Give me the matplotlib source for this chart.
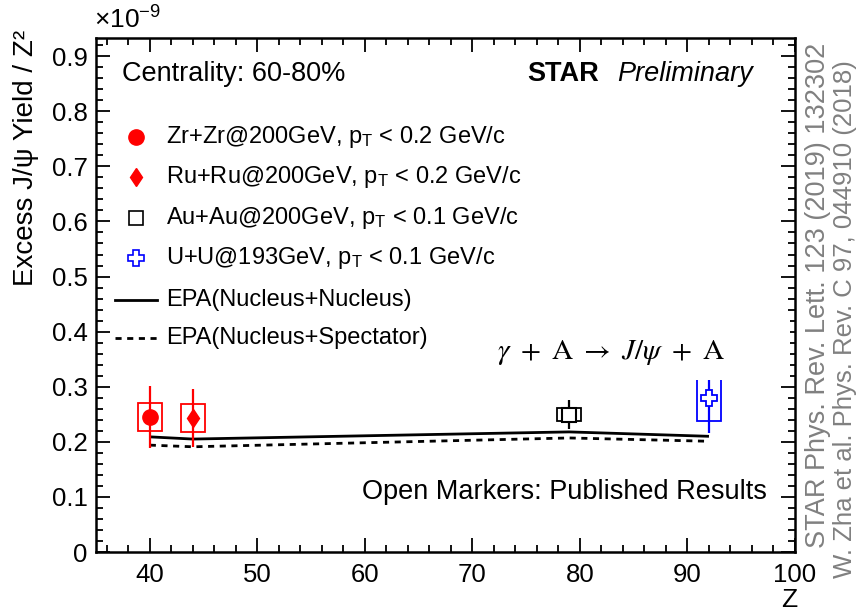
import matplotlib
matplotlib.use("Agg")
import matplotlib.pyplot as plt
from matplotlib.patches import Rectangle
from matplotlib.lines import Line2D
from matplotlib.ticker import MultipleLocator, FuncFormatter

plt.rcParams['font.family'] = ['Liberation Sans', 'DejaVu Sans']
plt.rcParams['mathtext.fontset'] = 'custom'
plt.rcParams['mathtext.rm'] = 'Liberation Sans'
plt.rcParams['mathtext.it'] = 'Liberation Sans:italic'
plt.rcParams['mathtext.bf'] = 'Liberation Sans:bold'

# Excess J/psi yield / Z^2 in units of 1e-9
zr_z, zr_y, zr_stat, zr_sys = [40], [0.245], [0.056], [0.026]
ru_z, ru_y, ru_stat, ru_sys = [44], [0.243], [0.053], [0.026]
au_z, au_y, au_stat, au_sys = [79], [0.249], [0.026], [0.012]
u_z, u_y, u_stat, u_sys = [92], [0.279], [0.063], [0.041]
sys_halfwidth = 1.1

# EPA model curves
epa_z = [40, 44, 79, 92]
epa_nn = [0.209, 0.205, 0.218, 0.210]
epa_ns = [0.194, 0.191, 0.207, 0.201]

W, H = 859, 614
fig = plt.figure(figsize=(W / 100, H / 100), dpi=100)
ax = fig.add_axes([96 / W, 1 - 552 / H, (795 - 96) / W, (552 - 38) / H])
ax.set_xlim(35, 100)
ax.set_ylim(0, 0.933)

def px(x, y):
    return x / W, 1 - y / H

# model lines
ax.plot(epa_z, epa_nn, color='black', lw=2.0, solid_capstyle='butt', zorder=2)
ax.plot(epa_z, epa_ns, color='black', lw=2.0, dashes=(2.2, 2.0), zorder=2)

def draw_points(z, y, stat, sys, color, marker, ms, mfc, mew):
    for zi, yi, st, sy in zip(z, y, stat, sys):
        ax.add_patch(Rectangle((zi - sys_halfwidth, yi - sy), 2 * sys_halfwidth, 2 * sy,
                               fill=False, edgecolor=color, lw=1.3, zorder=2.1))
        ax.errorbar([zi], [yi], yerr=[st], fmt='none', ecolor=color, elinewidth=1.6,
                    capsize=0, zorder=2.1)
        ax.plot([zi], [yi], marker=marker, ms=ms, mfc=mfc, mec=color, mew=mew,
                ls='none', zorder=2.2)

draw_points(zr_z, zr_y, zr_stat, zr_sys, 'red', 'o', 11, 'red', 1)
draw_points(ru_z, ru_y, ru_stat, ru_sys, 'red', 'd', 9.5, 'red', 1)
draw_points(au_z, au_y, au_stat, au_sys, 'black', 's', 9.5, 'white', 1.5)
draw_points(u_z, u_y, u_stat, u_sys, 'blue', 'P', 12, 'white', 1.3)

# white pad behind the reaction label
ax.add_patch(Rectangle((68, 0.312), 31.5, 0.11, facecolor='white', edgecolor='none', zorder=2.3))
ax.text(0.737, 0.389, r'$\gamma\ +\ \mathrm{A}\ \rightarrow\ J/\psi\ +\ \mathrm{A}$',
        transform=ax.transAxes, fontsize=21, math_fontfamily='stix',
        ha='center', va='center', zorder=2.4)

# axes styling
for s in ax.spines.values():
    s.set_linewidth(1.8)
    s.set_zorder(3)
ax.xaxis.set_major_locator(MultipleLocator(10))
ax.xaxis.set_minor_locator(MultipleLocator(2))
ax.yaxis.set_major_locator(MultipleLocator(0.1))
ax.yaxis.set_minor_locator(MultipleLocator(0.02))
ax.yaxis.set_major_formatter(FuncFormatter(lambda v, p: '0' if abs(v) < 1e-9 else f'{v:.1f}'))
ax.set_xticks([40, 50, 60, 70, 80, 90, 100])
ax.tick_params(which='both', direction='in', top=True, right=True, width=1.3)
ax.tick_params(which='major', length=10, labelsize=18.5)
ax.tick_params(which='minor', length=5)
ax.tick_params(axis='y', which='major', pad=6)
ax.tick_params(axis='x', which='major', pad=8)

# axis titles
fig.text(*px(26, 30), 'Excess J/ψ Yield / Z²', rotation=90, ha='center', va='top', fontsize=20)
fig.text(*px(797, 600), 'Z', ha='right', va='center', fontsize=19)
fig.text(*px(94, 20), r'×10$^{-9}$', ha='left', va='center', fontsize=19)

# annotations
fig.text(*px(122, 74), 'Centrality: 60-80%', ha='left', va='center', fontsize=19.5)
fig.text(*px(527, 74), 'STAR', ha='left', va='center', fontsize=19.5, fontweight='bold')
fig.text(*px(617, 74), 'Preliminary', ha='left', va='center', fontsize=19.5, style='italic')
fig.text(*px(767, 492), 'Open Markers: Published Results', ha='right', va='center', fontsize=19.5)

# legend
leg_rows = [137, 177, 218, 258, 300, 338]
leg_labels = [
    r'Zr+Zr@200GeV, p$_\mathrm{T}$ < 0.2 GeV/c',
    r'Ru+Ru@200GeV, p$_\mathrm{T}$ < 0.2 GeV/c',
    r'Au+Au@200GeV, p$_\mathrm{T}$ < 0.1 GeV/c',
    r'U+U@193GeV, p$_\mathrm{T}$ < 0.1 GeV/c',
    'EPA(Nucleus+Nucleus)',
    'EPA(Nucleus+Spectator)',
]
leg_markers = [('o', 'red', 'red', 11, 1), ('d', 'red', 'red', 9.5, 1),
               ('s', 'white', 'black', 9.5, 1.2), ('P', 'white', 'blue', 12, 1.2)]
for yrow, (m, fc, ec, ms, mew) in zip(leg_rows[:4], leg_markers):
    x0, y0 = px(136, yrow)
    fig.add_artist(Line2D([x0], [y0], marker=m, ms=ms, mfc=fc, mec=ec, mew=mew,
                          ls='none', transform=fig.transFigure))
for yrow, style in zip(leg_rows[4:], ['solid', 'dashed']):
    xa, ya = px(115, yrow)
    xb, _ = px(157, yrow)
    ln = Line2D([xa, xb], [ya, ya], color='black', lw=2.0, transform=fig.transFigure)
    if style == 'dashed':
        ln.set_dashes((2.2, 2.0))
    fig.add_artist(ln)
for yrow, lab in zip(leg_rows, leg_labels):
    fig.text(*px(166, yrow), lab, ha='left', va='center', fontsize=17)

# references
fig.text(*px(818, 548), 'STAR Phys. Rev. Lett. 123 (2019) 132302', rotation=90,
         ha='center', va='bottom', fontsize=19.5, color='#808080')
fig.text(*px(845, 578), 'W. Zha et al. Phys. Rev. C 97, 044910 (2018)', rotation=90,
         ha='center', va='bottom', fontsize=18.5, color='#808080')

fig.savefig('out.png', dpi=100)
